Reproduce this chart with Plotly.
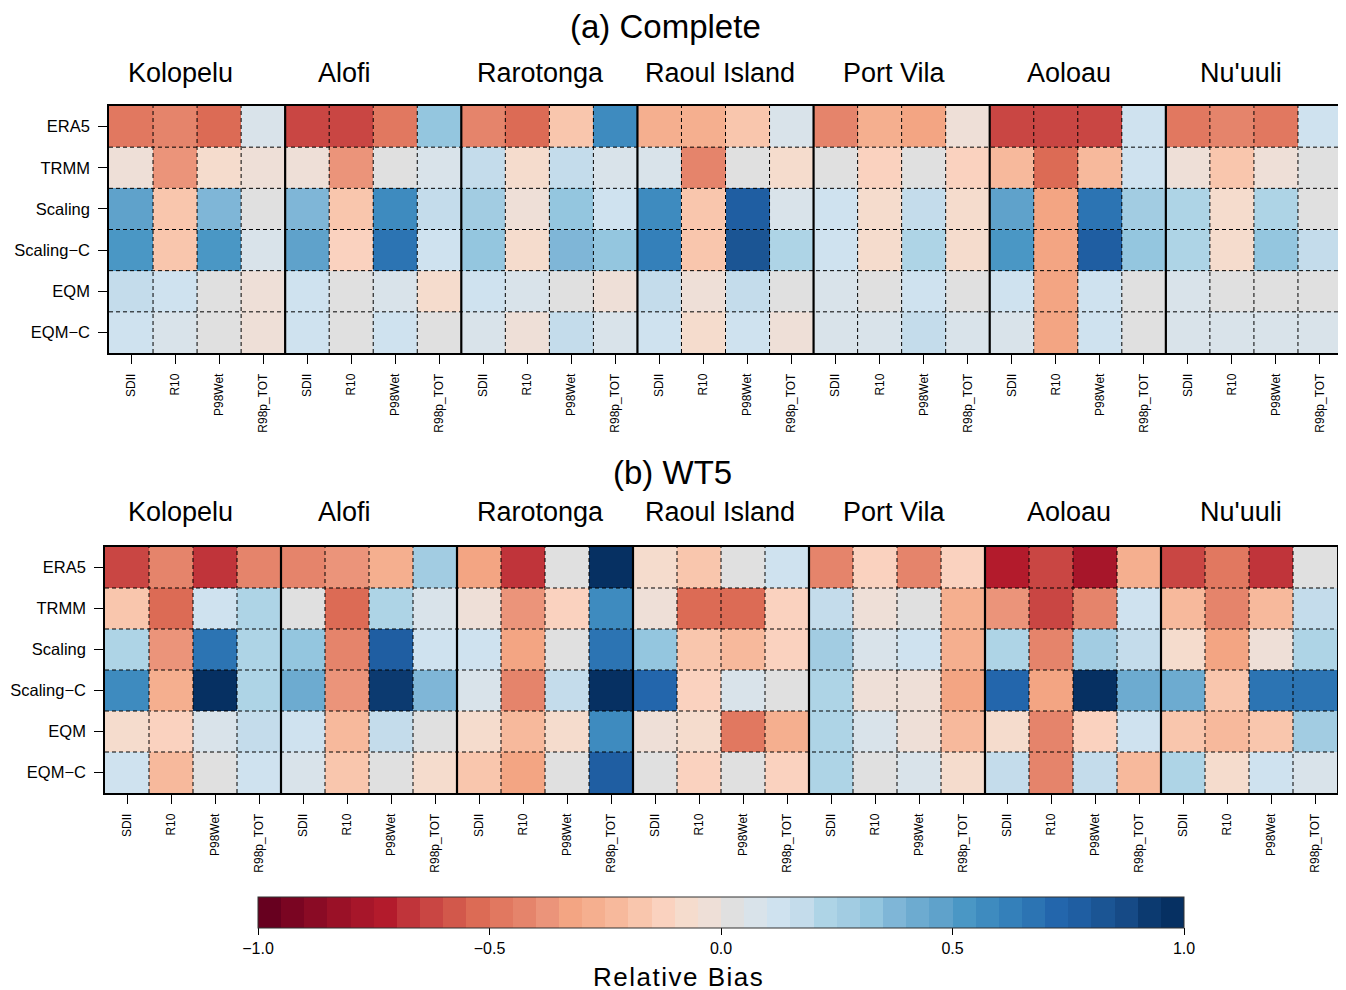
import plotly.graph_objects as go

# ---------------- data ----------------
stations = ["Kolopelu", "Alofi", "Rarotonga", "Raoul Island", "Port Vila", "Aoloau", "Nu'uuli"]
indices = ["SDII", "R10", "P98Wet", "R98p_TOT"]
methods = ["ERA5", "TRMM", "Scaling", "Scaling\u2212C", "EQM", "EQM\u2212C"]

# (a) Complete : rows = methods, 28 columns = stations x indices
complete_values = [
    [-0.48, -0.43, -0.53, 0.07, -0.63, -0.63, -0.48, 0.32, -0.43, -0.53, -0.18, 0.57, -0.28, -0.28, -0.18, 0.07,
     -0.43, -0.28, -0.33, -0.03, -0.63, -0.63, -0.63, 0.12, -0.48, -0.43, -0.48, 0.12],
    [-0.03, -0.38, -0.08, -0.03, -0.03, -0.38, 0.02, 0.07, 0.17, -0.08, 0.17, 0.07, 0.07, -0.43, 0.02, -0.08,
     0.02, -0.13, 0.02, -0.13, -0.23, -0.53, -0.23, 0.12, -0.03, -0.18, -0.03, 0.02],
    [0.47, -0.18, 0.37, 0.02, 0.37, -0.18, 0.57, 0.17, 0.27, -0.03, 0.32, 0.12, 0.57, -0.18, 0.77, 0.07,
     0.12, -0.08, 0.17, -0.08, 0.47, -0.33, 0.67, 0.27, 0.22, -0.08, 0.22, 0.02],
    [0.52, -0.18, 0.52, 0.07, 0.47, -0.13, 0.67, 0.12, 0.32, -0.08, 0.37, 0.32, 0.62, -0.18, 0.82, 0.22,
     0.12, -0.08, 0.22, -0.08, 0.52, -0.33, 0.77, 0.32, 0.22, -0.08, 0.32, 0.17],
    [0.17, 0.12, 0.02, -0.03, 0.12, 0.02, 0.07, -0.08, 0.12, 0.07, 0.02, -0.03, 0.17, -0.03, 0.17, 0.02,
     0.07, 0.02, 0.12, 0.02, 0.12, -0.33, 0.12, 0.02, 0.07, 0.02, 0.02, 0.02],
    [0.12, 0.07, 0.02, -0.03, 0.12, 0.02, 0.12, 0.02, 0.07, -0.03, 0.17, 0.07, 0.12, -0.08, 0.12, -0.03,
     0.07, 0.07, 0.17, 0.07, 0.07, -0.33, 0.12, 0.02, 0.07, 0.07, 0.07, 0.07],
]

# (b) WT5
wt5_values = [
    [-0.63, -0.43, -0.68, -0.43, -0.43, -0.38, -0.28, 0.27, -0.33, -0.68, 0.02, 0.97, -0.08, -0.18, 0.02, 0.12,
     -0.43, -0.13, -0.43, -0.13, -0.73, -0.63, -0.78, -0.28, -0.63, -0.48, -0.68, 0.02],
    [-0.18, -0.53, 0.12, 0.22, 0.02, -0.53, 0.22, 0.07, -0.03, -0.38, -0.13, 0.57, -0.03, -0.53, -0.53, -0.13,
     0.17, -0.03, 0.02, -0.28, -0.38, -0.63, -0.43, 0.12, -0.23, -0.43, -0.23, 0.17],
    [0.22, -0.38, 0.67, 0.22, 0.32, -0.43, 0.77, 0.12, 0.12, -0.33, 0.02, 0.67, 0.32, -0.18, -0.23, -0.13,
     0.27, 0.07, 0.12, -0.28, 0.22, -0.43, 0.27, 0.17, -0.08, -0.33, -0.03, 0.22],
    [0.57, -0.28, 0.97, 0.22, 0.42, -0.38, 0.92, 0.37, 0.07, -0.43, 0.17, 0.97, 0.72, -0.13, 0.07, 0.02,
     0.22, -0.03, -0.03, -0.33, 0.72, -0.33, 0.97, 0.42, 0.42, -0.18, 0.67, 0.67],
    [-0.08, -0.13, 0.07, 0.17, 0.12, -0.23, 0.17, 0.02, -0.08, -0.23, -0.08, 0.57, -0.03, -0.08, -0.48, -0.28,
     0.22, 0.07, -0.03, -0.23, -0.08, -0.43, -0.13, 0.12, -0.18, -0.23, -0.18, 0.27],
    [0.12, -0.23, 0.02, 0.12, 0.07, -0.18, 0.02, -0.08, -0.18, -0.33, 0.02, 0.77, 0.02, -0.13, 0.02, -0.13,
     0.22, 0.02, 0.07, -0.08, 0.17, -0.43, 0.17, -0.23, 0.22, -0.08, 0.12, 0.07],
]

colorbar_ticks = [-1.0, -0.5, 0.0, 0.5, 1.0]
colorbar_ticktext = ["\u22121.0", "\u22120.5", "0.0", "0.5", "1.0"]

# ---------------- style ----------------
palette = [
    "#67001F", "#7A0522", "#8A0B25", "#9A1127", "#A7162A", "#B31B2C", "#C0343A", "#C94643", "#D2584B", "#DC6B55",
    "#E17860", "#E5846B", "#EB947A", "#F3A583", "#F5AF8F", "#F7B99C", "#F9C6AD", "#FAD2BF", "#F5DCCD", "#EEDFD7",
    "#E0E0E0", "#D9E3EA", "#CFE2EF", "#C4DCEB", "#AED4E6", "#A2CCE2", "#94C6DF", "#7FB6D7", "#6DABD0", "#5FA2CB",
    "#4A97C5", "#3E8BBF", "#3480BA", "#2C74B3", "#2366AC", "#1F5EA2", "#1B5594", "#164A86", "#0C3A70", "#063062",
]
n = len(palette)
colorscale = []
for k, c in enumerate(palette):
    colorscale.append([k / n, c])
    colorscale.append([(k + 1) / n, c])

W, H = 1346, 990
OFF = 8  # page body margin
FONT = "Liberation Sans, Arial, Helvetica, sans-serif"

ncol = len(stations) * len(indices)
col_ticktext = indices * len(stations)

def fx(p):
    return (p - OFF) / W

def fy(p):
    return 1 - (p - OFF) / H

panels = [
    dict(vals=complete_values, title="(a) Complete", title_y=26, names_y=73,
         px=(109, 1342), py=(106, 353), xa="x", ya="y"),
    dict(vals=wt5_values, title="(b) WT5", title_y=472, names_y=512,
         px=(105, 1337), py=(547, 793), xa="x2", ya="y2"),
]
title_x = [665, 672]
name_x = [180.5, 344.5, 540, 720, 894.5, 1068.5, 1240.5]

fig = go.Figure()
shapes = []
annotations = []

for i, p in enumerate(panels):
    fig.add_trace(go.Heatmap(
        z=p["vals"], x=list(range(ncol)), y=list(range(len(methods))),
        colorscale=colorscale, zmin=-1, zmax=1,
        xaxis=p["xa"], yaxis=p["ya"],
        showscale=(i == 0),
        hoverinfo="skip",
        colorbar=dict(
            orientation="h", x=fx(721), xanchor="center", y=fy(897), yanchor="top",
            lenmode="pixels", len=926, thicknessmode="pixels", thickness=31,
            xpad=0, ypad=0, outlinecolor="#333333", outlinewidth=1,
            ticks="outside", ticklen=7, tickcolor="black", tickwidth=1,
            tickvals=colorbar_ticks, ticktext=colorbar_ticktext,
            tickfont=dict(family=FONT, size=16, color="black"),
        ),
    ))
    xkey = "xaxis" if i == 0 else "xaxis2"
    ykey = "yaxis" if i == 0 else "yaxis2"
    fig.layout[xkey] = dict(
        domain=[fx(p["px"][0]), fx(p["px"][1])], anchor=p["ya"],
        range=[-0.5, ncol - 0.5], tickmode="array", tickvals=list(range(ncol)), ticktext=col_ticktext,
        tickangle=-90, ticks="outside", ticklen=9, tickwidth=1, tickcolor="black",
        ticklabelstandoff=5,
        tickfont=dict(family=FONT, size=12, color="black"),
        showline=True, mirror=True, linecolor="black", linewidth=1.5,
        showgrid=False, zeroline=False, fixedrange=True,
    )
    fig.layout[ykey] = dict(
        domain=[fy(p["py"][1]), fy(p["py"][0])], anchor=p["xa"],
        range=[len(methods) - 0.5, -0.5], tickmode="array", tickvals=list(range(len(methods))), ticktext=methods,
        ticks="outside", ticklen=9, tickwidth=1, tickcolor="black",
        ticklabelstandoff=5,
        tickfont=dict(family=FONT, size=16.5, color="black"),
        showline=True, mirror=True, linecolor="black", linewidth=1.5,
        showgrid=False, zeroline=False, fixedrange=True,
    )
    # grid separators
    for c in range(1, ncol):
        solid = c % len(indices) == 0
        shapes.append(dict(
            type="line", xref=p["xa"], yref=p["ya"] + " domain", x0=c - 0.5, x1=c - 0.5, y0=0, y1=1,
            line=dict(color="black", width=2.2 if solid else 1, dash="solid" if solid else "4px,3px"),
        ))
    for r in range(1, len(methods)):
        shapes.append(dict(
            type="line", xref=p["xa"] + " domain", yref=p["ya"], x0=0, x1=1, y0=r - 0.5, y1=r - 0.5,
            line=dict(color="black", width=1, dash="4px,3px"),
        ))
    annotations.append(dict(
        text=p["title"], x=fx(title_x[i]), y=fy(p["title_y"]), xref="paper", yref="paper",
        xanchor="center", yanchor="middle", showarrow=False,
        font=dict(family=FONT, size=33, color="black"),
    ))
    for s, sx in zip(stations, name_x):
        annotations.append(dict(
            text=s, x=fx(sx), y=fy(p["names_y"]), xref="paper", yref="paper",
            xanchor="center", yanchor="middle", showarrow=False,
            font=dict(family=FONT, size=27, color="black"),
        ))

annotations.append(dict(
    text='<span style="letter-spacing:1.5px">Relative Bias</span>', x=fx(678), y=fy(977),
    xref="paper", yref="paper", xanchor="center", yanchor="middle", showarrow=False,
    font=dict(family=FONT, size=26, color="black"),
))

fig.update_layout(
    width=W, height=H, margin=dict(l=0, r=0, t=0, b=0),
    paper_bgcolor="white", plot_bgcolor="white",
    shapes=shapes, annotations=annotations, showlegend=False,
    font=dict(family=FONT, color="black"),
)

fig.write_html("out.html", config={"displayModeBar": False})
